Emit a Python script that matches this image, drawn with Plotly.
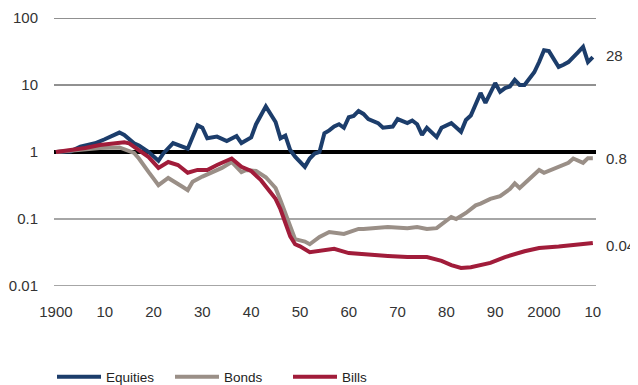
import math
import plotly.graph_objects as go

# ---------------- data ----------------
eq_years = [1900, 1902, 1903, 1905, 1908, 1910, 1913, 1914, 1916, 1917, 1919, 1921, 1922, 1924,
            1926, 1927, 1929, 1930, 1931, 1933, 1935, 1937, 1938, 1940, 1941, 1943, 1945, 1946,
            1947, 1948, 1949, 1951, 1952, 1953, 1954, 1955, 1956, 1957, 1958, 1959, 1960, 1961,
            1962, 1963, 1964, 1965, 1966, 1967, 1969, 1970, 1972, 1973, 1974, 1975, 1976, 1978,
            1979, 1981, 1982, 1983, 1984, 1985, 1987, 1988, 1990, 1991, 1992, 1993, 1994, 1995,
            1996, 1998, 1999, 2000, 2001, 2003, 2004, 2005, 2007, 2008, 2009, 2010]
equities = [1.0, 1.0, 1.02, 1.2, 1.35, 1.55, 1.95, 1.8, 1.35, 1.25, 1.0, 0.74, 0.95, 1.36,
            1.2, 1.12, 2.5, 2.3, 1.6, 1.7, 1.46, 1.73, 1.36, 1.65, 2.6, 4.8, 2.8, 1.6,
            1.75, 1.07, 0.85, 0.6, 0.8, 0.95, 1.0, 1.9, 2.1, 2.4, 2.6, 2.3, 3.3, 3.45,
            4.1, 3.7, 3.1, 2.9, 2.7, 2.3, 2.4, 3.1, 2.7, 2.95, 2.6, 1.8, 2.3, 1.67,
            2.3, 2.7, 2.3, 2.0, 3.0, 3.5, 7.6, 5.4, 10.7, 7.9, 9.0, 9.5, 11.9, 10.0,
            10.0, 15.5, 22.0, 33.0, 32.0, 18.6, 20.0, 22.0, 31.0, 37.0, 22.0, 26.0]

bond_years = [1900, 1903, 1906, 1909, 1913, 1914, 1916, 1917, 1918, 1919, 1920, 1921, 1923, 1925,
              1926, 1927, 1928, 1930, 1932, 1934, 1936, 1938, 1939, 1941, 1943, 1945, 1946, 1947,
              1948, 1949, 1950, 1951, 1952, 1954, 1956, 1959, 1962, 1963, 1968, 1972, 1974, 1976,
              1978, 1979, 1981, 1982, 1984, 1986, 1987, 1989, 1991, 1993, 1994, 1995, 1997, 1999,
              2000, 2003, 2005, 2006, 2008, 2009, 2010]
bonds = [1.0, 1.05, 1.12, 1.15, 1.17, 1.1, 0.97, 0.8, 0.65, 0.5, 0.4, 0.32, 0.41, 0.34,
         0.3, 0.27, 0.36, 0.43, 0.5, 0.58, 0.71, 0.5, 0.54, 0.52, 0.42, 0.29, 0.19, 0.12,
         0.076, 0.05, 0.048, 0.046, 0.042, 0.054, 0.064, 0.06, 0.071, 0.071, 0.076, 0.073, 0.076, 0.071,
         0.073, 0.084, 0.107, 0.1, 0.123, 0.16, 0.17, 0.2, 0.22, 0.28, 0.34, 0.29, 0.4, 0.54,
         0.49, 0.6, 0.69, 0.8, 0.69, 0.81, 0.81]

bill_years = [1900, 1903, 1906, 1909, 1914, 1915, 1917, 1919, 1921, 1923, 1925, 1927, 1929, 1931,
              1933, 1934, 1936, 1938, 1940, 1942, 1944, 1945, 1946, 1947, 1948, 1949, 1950, 1952,
              1955, 1957, 1960, 1962, 1964, 1968, 1972, 1976, 1979, 1981, 1983, 1985, 1989, 1992,
              1996, 1999, 2003, 2007, 2010]
bills = [1.0, 1.07, 1.15, 1.27, 1.4, 1.35, 1.07, 0.84, 0.58, 0.71, 0.64, 0.49, 0.54, 0.54,
         0.64, 0.69, 0.8, 0.6, 0.52, 0.38, 0.25, 0.2, 0.14, 0.09, 0.055, 0.042, 0.039, 0.032,
         0.034, 0.036, 0.031, 0.030, 0.029, 0.028, 0.027, 0.027, 0.0237, 0.0205, 0.0186, 0.019, 0.0221, 0.027,
         0.033, 0.037, 0.039, 0.041, 0.044]

x_ticks = [1900, 1910, 1920, 1930, 1940, 1950, 1960, 1970, 1980, 1990, 2000, 2010]
x_tick_labels = ["1900", "10", "20", "30", "40", "50", "60", "70", "80", "90", "2000", "10"]
y_ticks = [0.01, 0.1, 1, 10, 100]
y_tick_labels = ["0.01", "0.1", "1", "10", "100"]
end_labels = [("28", 28), ("0.8", 0.8), ("0.04", 0.04)]

EQ_COLOR = "#1c3d6b"
BOND_COLOR = "#9a8f87"
BILL_COLOR = "#a11c3a"
FONT = "Liberation Sans, Arial, sans-serif"

# the page body has an 8px default margin; the figure is sized to end at the window edges
FIG_W, FIG_H = 630, 377

fig = go.Figure()
fig.add_trace(go.Scatter(x=eq_years, y=equities, name="Equities", mode="lines",
                         line=dict(color=EQ_COLOR, width=4)))
fig.add_trace(go.Scatter(x=bond_years, y=bonds, name="Bonds", mode="lines",
                         line=dict(color=BOND_COLOR, width=4)))
fig.add_trace(go.Scatter(x=bill_years, y=bills, name="Bills", mode="lines",
                         line=dict(color=BILL_COLOR, width=4)))

# gridlines
for v, col, w in [(100, "#222222", 1), (10, "#222222", 1), (0.1, "#888888", 1.5), (0.01, "#888888", 1.5)]:
    fig.add_shape(type="line", xref="paper", x0=0, x1=1, yref="y", y0=v, y1=v,
                  line=dict(color=col, width=w), layer="below")
fig.add_shape(type="line", xref="paper", x0=0, x1=1, yref="y", y0=1, y1=1,
              line=dict(color="#000000", width=4), layer="below")

for txt, v in end_labels:
    fig.add_annotation(x=1, xref="paper", y=math.log10(v), yref="y", text=txt, showarrow=False,
                       xanchor="left", yanchor="middle", xshift=8,
                       font=dict(family=FONT, size=15, color="#333333"))

fig.update_layout(
    width=FIG_W, height=FIG_H,
    margin=dict(l=46, r=42, t=10, b=99, autoexpand=False),
    paper_bgcolor="white", plot_bgcolor="white",
    showlegend=True,
    legend=dict(orientation="h", xref="container", x=44 / FIG_W, xanchor="left",
                yref="container", y=1 - 369 / FIG_H, yanchor="middle",
                font=dict(family="Liberation Sans Narrow, Arial Narrow, Liberation Sans, sans-serif",
                          size=13.5, color="#222222"),
                itemwidth=44, entrywidth=59, entrywidthmode="pixels"),
    xaxis=dict(range=[1899.6, 2010.65], tickvals=x_ticks, ticktext=x_tick_labels,
               showgrid=False, zeroline=False, showline=False, automargin=False,
               ticks="outside", ticklen=12, tickcolor="rgba(0,0,0,0)",
               tickfont=dict(family=FONT, size=15, color="#333333")),
    yaxis=dict(type="log", range=[-2, 2], tickvals=y_ticks, ticktext=y_tick_labels,
               showgrid=False, zeroline=False, showline=False, automargin=False,
               ticks="outside", ticklen=12, tickcolor="rgba(0,0,0,0)",
               tickfont=dict(family=FONT, size=15, color="#333333")),
)

fig.write_html("out.html")
